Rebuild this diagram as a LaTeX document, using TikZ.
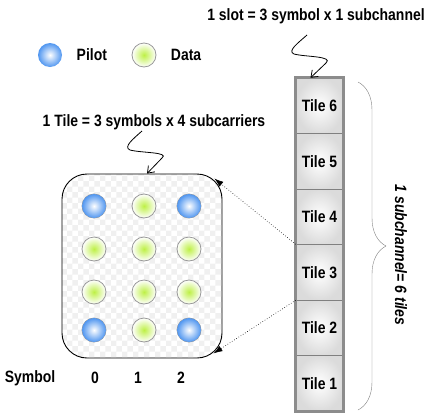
\documentclass[tikz,border=0pt]{standalone}
\usepackage{fontspec}
\setmainfont{Liberation Sans}[FakeStretch=0.85, BoldFont={Liberation Sans Bold}, BoldItalicFont={Liberation Sans Bold Italic}]
\usetikzlibrary{positioning,patterns,decorations.pathreplacing,arrows.meta}
\tikzset{>=stealth}
\definecolor{pilotblue}{RGB}{80,150,240}
\definecolor{datagreen}{RGB}{190,240,70}
\newcommand{\lblsize}{\fontsize{16.4}{18}\selectfont}
\tikzset{
  pilot/.style={circle, minimum size=24pt, inner sep=0pt, inner color=white, outer color=pilotblue},
  data/.style={circle, minimum size=24pt, inner sep=0pt, draw=gray!80, thick, inner color=datagreen, outer color=white},
  tile/.style={draw=gray, minimum width=47pt, minimum height=55.5pt, inner color=white, outer color=gray!28, font=\bfseries\lblsize},
  block/.style={draw, line width=0.9pt, rounded corners=25pt, minimum width=160pt, minimum height=184pt, pattern=checkerboard, pattern color=black!6},
  lbl/.style={font=\bfseries\lblsize},
  squiggle/.style={-{Straight Barb[length=6pt,width=9pt]}, line width=0.8pt},
  zoomline/.style={dotted, line width=0.6pt, -{Latex[length=9pt,width=6pt]}},
}
\begin{document}
\begin{tikzpicture}[x=1pt,y=-1pt]
\useasboundingbox (0,0) rectangle (428,413);
%%%% legend
\node[pilot] (lpilot) at (50,55) {};
\node[lbl, right=11pt of lpilot] (lpilottxt) {Pilot};
\node[data] (ldata) at (144,55) {};
\node[lbl, right=11pt of ldata] (ldatatxt) {Data};
%%%% subchannel column
\foreach \i in {1,...,6}
  \node[tile] (t\i) at (319.5,{411-(\i-0.5)*55.5}) {Tile \i};
\draw[gray!90, line width=3pt] (t1.south west) rectangle (t6.north east);
\node[lbl] (slot) at (316,16) {1 slot = 3 symbol x 1 subchannel};
\draw[squiggle] (307,35) .. controls (298,43) and (287,51) .. (294,54)
  .. controls (305,57) and (334,56) .. (326,63) -- ([xshift=-9pt]t6.north);
\draw[gray, decorate, decoration={brace, amplitude=28pt}] (358,82) -- (358,410);
\node[font=\bfseries\itshape\lblsize, rotate=-90] (sub) at (401,255) {1 subchannel= 6 tiles};
%%%% one tile
\node[block] (blk) at (142,266) {};
\node[lbl] (tiletxt) at (154,122) {1 Tile = 3 symbols x 4 subcarriers};
\draw[squiggle] (142,131) .. controls (133,139) and (123,147) .. (130,150)
  .. controls (141,153) and (170,152) .. (162,158) -- ([xshift=5pt]blk.north);
\foreach \c/\x in {0/94,1/144,2/189}
  \foreach \r/\y in {1/206,2/249,3/292,4/330}
    \node[data] (d\r\c) at (\x,\y) {};
\foreach \r/\c in {1/0,1/2,4/0,4/2}
  \node[pilot] (p\r\c) at (d\r\c) {};
\node[lbl] (sym) at (30,378) {Symbol};
\node[lbl] (s0) at (95,378) {0};
\node[lbl] (s1) at (138,378) {1};
\node[lbl] (s2) at (181,378) {2};
%%%% zoom lines
\draw[zoomline] (t3.north west) -- ([xshift=-8pt,yshift=-5pt]blk.north east);
\draw[zoomline] (t3.south west) -- ([xshift=-9pt,yshift=5pt]blk.south east);
\end{tikzpicture}
\end{document}
